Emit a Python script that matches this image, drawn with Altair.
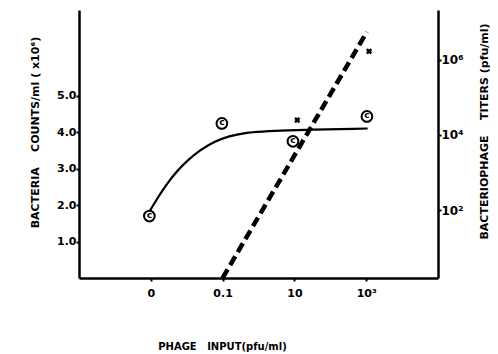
import json
import altair as alt
import pandas as pd

# ---- data ----
x_labels = ["0", "0.1", "10", "10³"]
x_pos = [1, 2, 3, 4]

count_pos = [0.98, 1.99, 2.98, 4.01]
counts = [1.7, 4.24, 3.75, 4.43]

curve_pos = [0.99, 1.2, 1.5, 1.9, 2.3, 2.8, 4.02]
curve_counts = [1.85, 2.55, 3.25, 3.8, 4.0, 4.05, 4.1]

titer_pos = [3.04, 4.04]
titers = [2.5e4, 1.7e6]

dash_pos = [2.0, 4.01]
dash_titers = [1.55, 5.6e6]

count_ticks = [1, 2, 3, 4, 5]
titer_ticks = [1e2, 1e4, 1e6]
titer_labels = ["10²", "10⁴", "10⁶"]

# ---- tables ----
df_counts = pd.DataFrame({"x": count_pos, "y": counts})
df_curve = pd.DataFrame({"x": curve_pos, "y": curve_counts})
df_titers = pd.DataFrame({"x": titer_pos, "t": titers})
df_dash = pd.DataFrame({"x": dash_pos, "t": dash_titers})

FONT = "DejaVu Sans"
NB = "\u00a0"

xscale = alt.Scale(domain=[0, 5], nice=False, zero=False)
xaxis = alt.Axis(
    values=x_pos,
    labelExpr=json.dumps([""] + x_labels) + "[datum.value]",
    title="PHAGE" + NB * 3 + "INPUT(pfu/ml)",
    titleX=143, titleY=68, titleAlign="center", titleBaseline="middle",
    tickSize=3, labelPadding=6, labelFontSize=11,
)
X = alt.X("x:Q", scale=xscale, axis=xaxis)

ly = alt.Y(
    "y:Q",
    scale=alt.Scale(domain=[0, 7.35], nice=False, zero=False),
    axis=alt.Axis(
        values=count_ticks, format=".1f",
        title="BACTERIA" + NB * 4 + "COUNTS/ml" + NB + "(" + NB + "x10⁶)",
        titleAngle=270, titleX=-44, titleY=122, titleFontSize=11,
        titleAlign="center", titleBaseline="middle",
        tickSize=3, labelPadding=0, labelFontSize=11,
    ),
)

rexpr = "datum.value < 1000 ? '%s' : datum.value < 100000 ? '%s' : '%s'" % tuple(titer_labels)
ry = alt.Y(
    "t:Q",
    scale=alt.Scale(type="log", domain=[10 ** 0.19, 10 ** 7.33], nice=False),
    axis=alt.Axis(
        orient="right", values=titer_ticks, labelExpr=rexpr,
        title="BACTERIOPHAGE" + NB * 4 + "TITERS" + NB + "(pfu/ml)",
        titleAngle=270, titleX=46, titleY=121, titleFontSize=11,
        titleAlign="center", titleBaseline="middle",
        tickSize=3, labelPadding=0, labelFontSize=12,
    ),
)

curve = alt.Chart(df_curve).mark_line(
    color="black", strokeWidth=2.2, interpolate="basis"
).encode(x=X, y=ly)

circles = alt.Chart(df_counts).mark_point(
    shape="circle", size=115, filled=False, color="black", strokeWidth=2, opacity=1
).encode(x=X, y=ly)

ctext = alt.Chart(df_counts).mark_text(
    text="c", font=FONT, fontWeight="bold", fontSize=9, color="black",
    baseline="middle", align="center", dy=-1
).encode(x=X, y=ly)

left = alt.layer(curve, circles, ctext)

dash = alt.Chart(df_dash).mark_line(
    color="black", strokeWidth=4.5, strokeDash=[10, 5], clip=True
).encode(x=alt.X("x:Q", scale=xscale, axis=xaxis), y=ry)

xmarks = alt.Chart(df_titers).mark_point(
    shape="cross", angle=45, filled=True, size=40, color="black", opacity=1
).encode(x=alt.X("x:Q", scale=xscale, axis=xaxis), y=ry)

right = alt.layer(dash, xmarks)

chart = (
    alt.layer(left, right)
    .resolve_scale(y="independent")
    .properties(
        width=359, height=268,
        autosize=alt.AutoSizeParams(type="none"),
        padding={"left": 71, "top": 2, "right": 52, "bottom": 76},
    )
    .configure_view(stroke=None)
    .configure_axis(
        grid=False,
        domainColor="black", domainWidth=2.5,
        tickColor="black", tickWidth=2,
        labelColor="black", labelFont=FONT, labelFontWeight="bold",
        titleColor="black", titleFont=FONT, titleFontWeight="bold", titleFontSize=10,
    )
)

chart.save("out.html", embed_options={"renderer": "svg", "actions": False})
